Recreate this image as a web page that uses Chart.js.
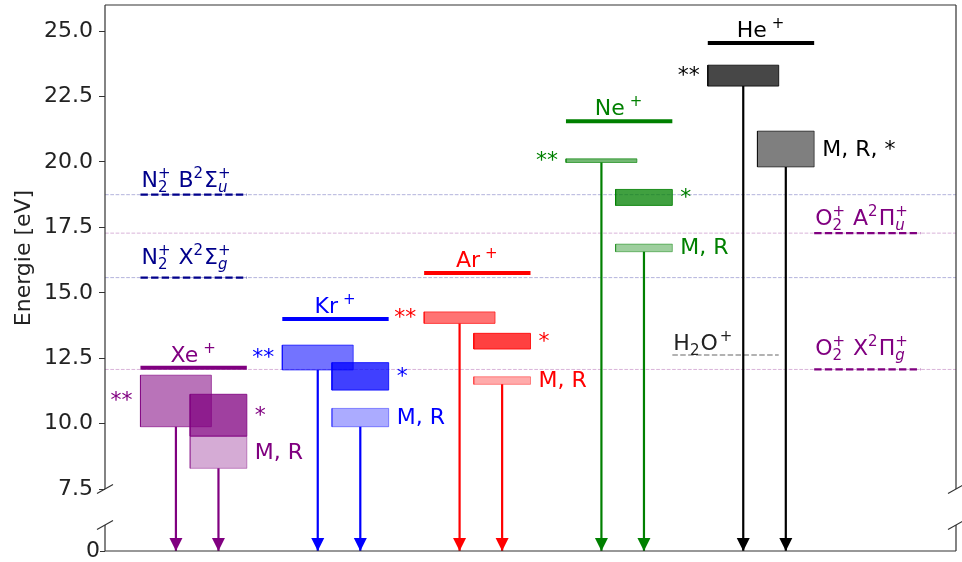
<!DOCTYPE html>
<html>
<head>
<meta charset="utf-8">
<title>Ionisierungsenergien</title>
<script src="https://cdn.jsdelivr.net/npm/chart.js@4.4.1/dist/chart.umd.min.js"></script>
<style>
  html, body { margin: 0; padding: 0; background: #ffffff; }
  canvas { display: block; }
</style>
</head>
<body>
<canvas id="chart" width="962" height="562" style="width:962px;height:562px"></canvas>
<script>
// ---- data ---------------------------------------------------------------
// Noble-gas ions, one group per x position
const ions = ['Xe', 'Kr', 'Ar', 'Ne', 'He'];
const ionX = [1, 2, 3, 4, 5];
const ionEnergy = [12.13, 14.00, 15.76, 21.56, 24.55];          // eV

// Energy windows [low, high] in eV
const rangeDoubleStar = [[9.88, 11.85], [12.05, 13.00], [13.83, 14.27], [19.98, 20.12], [22.90, 23.70]];
const rangeStar       = [[9.52, 11.12], [11.28, 12.33], [12.85, 13.45], [18.34, 18.95], null];
const rangeMR         = [[8.29, 9.52],  [9.88, 10.58],  [11.50, 11.79], [16.57, 16.86], [19.81, 21.18]];
const mrText = ['M, R', 'M, R', 'M, R', 'M, R', 'M, R, *'];

// Molecular ion states
const molStates = ['N2+ B', 'N2+ X', 'O2+ A', 'O2+ X'];
const molEnergy = [18.75, 15.58, 17.28, 12.07];
const molX = [1, 1, 5.75, 5.75];
const waterEnergy = 12.62;
const waterX = 4.75;

// Axis ticks
const yTicksUpper = [7.5, 10.0, 12.5, 15.0, 17.5, 20.0, 22.5, 25.0];
const yTicksLower = [0];

// ---- styling / layout --------------------------------------------------
const X_MIN = 0.375, X_MAX = 6.375;
const Y_MIN = 7.5, Y_MAX = 26;
const Y0_MIN = 0, Y0_MAX = 1;
const HALF = 0.375;                       // half width of an ion level bar
const SPAN_DSTAR = [-0.375, 0.125];       // box span relative to group centre
const SPAN_RIGHT = [-0.025, 0.375];
const FONT = '"DejaVu Sans", "Liberation Sans", sans-serif';

const ionRGB = { Xe: [128, 0, 128], Kr: [0, 0, 255], Ar: [255, 0, 0], Ne: [0, 128, 0], He: [0, 0, 0] };
const ionCss = { Xe: '#800080', Kr: '#0000ff', Ar: '#ff0000', Ne: '#008000', He: '#000000' };
const molCss = ['#00008b', '#00008b', '#800080', '#800080'];
const molGuide = ['rgba(0,0,139,0.30)', 'rgba(0,0,139,0.30)', 'rgba(128,0,128,0.30)', 'rgba(128,0,128,0.30)'];
const boxAlpha = {
  Xe: { d: 0.55, s: 0.75, m: 0.33 },
  Kr: { d: 0.55, s: 0.75, m: 0.33 },
  Ar: { d: 0.55, s: 0.75, m: 0.33 },
  Ne: { d: 0.55, s: 0.75, m: 0.38 },
  He: { d: 0.72, s: 0.75, m: 0.50 }
};

const rgba = (c, a) => `rgba(${c[0]},${c[1]},${c[2]},${a})`;
const rect = (x0, x1, lo, hi) => [
  { x: x0, y: lo }, { x: x1, y: lo }, { x: x1, y: hi }, { x: x0, y: hi }, { x: x0, y: lo }
];

// ---- datasets ----------------------------------------------------------
const datasets = [];
const base = { pointRadius: 0, pointHoverRadius: 0, tension: 0, fill: false, yAxisID: 'y' };

// faint guide lines across the whole plot
molEnergy.forEach((e, i) => {
  datasets.push(Object.assign({}, base, {
    label: molStates[i] + ' guide',
    data: [{ x: X_MIN, y: e }, { x: X_MAX, y: e }],
    borderColor: molGuide[i], borderWidth: 1, borderDash: [3.7, 1.6], order: 20
  }));
});

ions.forEach((ion, i) => {
  const c = ionX[i];
  const col = ionRGB[ion];
  const a = boxAlpha[ion];
  const addBox = (span, r, alpha) => {
    if (!r) return;
    datasets.push(Object.assign({}, base, {
      label: ion + ' box',
      data: rect(c + span[0], c + span[1], r[0], r[1]),
      fill: 'shape',
      backgroundColor: rgba(col, alpha),
      borderColor: rgba(col, Math.min(1, alpha + 0.08)),
      borderWidth: 1, order: 10
    }));
  };
  addBox(SPAN_RIGHT, rangeMR[i], a.m);
  addBox(SPAN_RIGHT, rangeStar[i], a.s);
  addBox(SPAN_DSTAR, rangeDoubleStar[i], a.d);

  // ionisation level
  datasets.push(Object.assign({}, base, {
    label: ion + '+',
    data: [{ x: c - HALF, y: ionEnergy[i] }, { x: c + HALF, y: ionEnergy[i] }],
    borderColor: ionCss[ion], borderWidth: 4, borderCapStyle: 'butt', order: 5
  }));

  // arrows from the lower edge of a window down to zero
  const addArrow = (span, r) => {
    const xa = c + (span[0] + span[1]) / 2;
    datasets.push(Object.assign({}, base, {
      label: ion + ' arrow',
      data: [{ x: xa, y: r[0] }, { x: xa, y: Y_MIN }],
      borderColor: ionCss[ion], borderWidth: 2.2, borderCapStyle: 'butt', order: 4
    }));
    datasets.push(Object.assign({}, base, {
      label: ion + ' arrow',
      yAxisID: 'y0', arrowHead: true,
      data: [{ x: xa, y: Y0_MAX }, { x: xa, y: Y0_MIN }],
      borderColor: ionCss[ion], borderWidth: 2.2, borderCapStyle: 'butt', order: 4
    }));
  };
  addArrow(SPAN_DSTAR, rangeDoubleStar[i]);
  addArrow(SPAN_RIGHT, rangeMR[i]);
});

// molecular state markers
molEnergy.forEach((e, i) => {
  datasets.push(Object.assign({}, base, {
    label: molStates[i],
    data: [{ x: molX[i] - HALF, y: e }, { x: molX[i] + HALF, y: e }],
    borderColor: molCss[i], borderWidth: 2.2, borderDash: [7.4, 3.2], order: 6
  }));
});
datasets.push(Object.assign({}, base, {
  label: 'H2O+',
  data: [{ x: waterX - HALF, y: waterEnergy }, { x: waterX + HALF, y: waterEnergy }],
  borderColor: '#999999', borderWidth: 1.5, borderDash: [5.5, 2.4], order: 6
}));

// ---- text helpers ------------------------------------------------------
const MAIN = '22px ' + FONT;
const SCRIPT = '15px ' + FONT;
const SCRIPT_IT = 'italic 15px ' + FONT;

function drawRich(ctx, parts, x, y, align, color) {
  const widths = parts.map(p => {
    if (p.t) { ctx.font = MAIN; return ctx.measureText(p.t).width; }
    if (p.gap) return p.gap;
    let w = 0;
    if (p.sup) { ctx.font = SCRIPT; w = Math.max(w, ctx.measureText(p.sup).width); }
    if (p.sub) { ctx.font = p.it ? SCRIPT_IT : SCRIPT; w = Math.max(w, ctx.measureText(p.sub).width); }
    return w + 1;
  });
  const total = widths.reduce((s, w) => s + w, 0);
  let cx = align === 'center' ? x - total / 2 : (align === 'right' ? x - total : x);
  ctx.fillStyle = color;
  ctx.textAlign = 'left';
  ctx.textBaseline = 'alphabetic';
  parts.forEach((p, i) => {
    if (p.t) { ctx.font = MAIN; ctx.fillText(p.t, cx, y); }
    if (p.sup) { ctx.font = SCRIPT; ctx.fillText(p.sup, cx, y - 9); }
    if (p.sub) { ctx.font = p.it ? SCRIPT_IT : SCRIPT; ctx.fillText(p.sub, cx, y + 5); }
    cx += widths[i];
  });
}

const molParts = [
  [{ t: 'N' }, { sub: '2', sup: '+' }, { t: ' B' }, { sup: '2' }, { t: 'Σ' }, { sub: 'u', sup: '+', it: true }],
  [{ t: 'N' }, { sub: '2', sup: '+' }, { t: ' X' }, { sup: '2' }, { t: 'Σ' }, { sub: 'g', sup: '+', it: true }],
  [{ t: 'O' }, { sub: '2', sup: '+' }, { t: ' A' }, { sup: '2' }, { t: 'Π' }, { sub: 'u', sup: '+', it: true }],
  [{ t: 'O' }, { sub: '2', sup: '+' }, { t: ' X' }, { sup: '2' }, { t: 'Π' }, { sub: 'g', sup: '+', it: true }]
];
const molRaise = [8, 14, 8, 14];

// ---- decorations plugin ------------------------------------------------
const decorations = {
  id: 'decorations',
  beforeDraw(chart) {
    const ctx = chart.ctx;
    ctx.save();
    ctx.fillStyle = '#ffffff';
    ctx.fillRect(0, 0, chart.width, chart.height);
    ctx.restore();
  },
  afterDatasetsDraw(chart) {
    const ctx = chart.ctx;
    const xs = chart.scales.x, ys = chart.scales.y, y0s = chart.scales.y0;
    const area = chart.chartArea;
    ctx.save();

    // arrow heads
    chart.data.datasets.forEach((ds, i) => {
      if (!ds.arrowHead) return;
      const meta = chart.getDatasetMeta(i);
      const tip = meta.data[meta.data.length - 1];
      ctx.fillStyle = ds.borderColor;
      ctx.beginPath();
      ctx.moveTo(tip.x, tip.y);
      ctx.lineTo(tip.x - 6.5, tip.y - 13);
      ctx.lineTo(tip.x + 6.5, tip.y - 13);
      ctx.closePath();
      ctx.fill();
    });

    // frame with axis break
    const upperBottom = ys.bottom;
    const lowerTop = ys.bottom + 36;
    const bottom = y0s.getPixelForValue(Y0_MIN);
    ctx.strokeStyle = '#333333';
    ctx.lineWidth = 1.2;
    ctx.beginPath();
    [area.left, area.right].forEach(xx => {
      ctx.moveTo(xx, ys.top); ctx.lineTo(xx, upperBottom);
      ctx.moveTo(xx, lowerTop); ctx.lineTo(xx, bottom);
    });
    ctx.moveTo(area.left, ys.top); ctx.lineTo(area.right, ys.top);
    ctx.moveTo(area.left, bottom); ctx.lineTo(area.right, bottom);
    ctx.stroke();
    ctx.beginPath();
    [area.left, area.right].forEach(xx => {
      [upperBottom, lowerTop].forEach(yy => {
        ctx.moveTo(xx - 8, yy + 4.5); ctx.lineTo(xx + 8, yy - 4.5);
      });
    });
    ctx.stroke();

    // ion labels and window labels
    ions.forEach((ion, i) => {
      const c = ionX[i];
      const col = ionCss[ion];
      const yl = ys.getPixelForValue(ionEnergy[i]) - 6;
      drawRich(ctx, [{ t: ion }, { gap: 5 }, { sup: '+' }], xs.getPixelForValue(c), yl, 'center', col);

      const mid = r => (ys.getPixelForValue(r[0]) + ys.getPixelForValue(r[1])) / 2 + 6.5;
      ctx.font = MAIN;
      ctx.fillStyle = col;
      ctx.textBaseline = 'alphabetic';
      ctx.textAlign = 'right';
      ctx.fillText('**', xs.getPixelForValue(c + SPAN_DSTAR[0]) - 8, mid(rangeDoubleStar[i]));
      ctx.textAlign = 'left';
      const xr = xs.getPixelForValue(c + SPAN_RIGHT[1]) + 8;
      if (rangeStar[i]) ctx.fillText('*', xr, mid(rangeStar[i]));
      ctx.fillText(mrText[i], xr, mid(rangeMR[i]));
    });

    // molecular state labels
    molEnergy.forEach((e, i) => {
      drawRich(ctx, molParts[i], xs.getPixelForValue(molX[i] - HALF) + 1,
        ys.getPixelForValue(e) - molRaise[i], 'left', molCss[i]);
    });
    drawRich(ctx, [{ t: 'H' }, { sub: '2' }, { t: 'O' }, { gap: 2 }, { sup: '+' }],
      xs.getPixelForValue(waterX - HALF) + 1, ys.getPixelForValue(waterEnergy) - 5, 'left', '#222222');

    // axis title
    ctx.save();
    ctx.translate(24, (ys.top + ys.bottom) / 2 + 11);
    ctx.rotate(-Math.PI / 2);
    ctx.font = MAIN;
    ctx.fillStyle = '#222222';
    ctx.textAlign = 'center';
    ctx.textBaseline = 'middle';
    ctx.fillText('Energie [eV]', 0, 0);
    ctx.restore();

    ctx.restore();
  }
};

// ---- chart -------------------------------------------------------------
Chart.defaults.font.family = FONT;

const tickFont = { size: 22, family: FONT };
new Chart(document.getElementById('chart'), {
  type: 'line',
  data: { datasets },
  plugins: [decorations],
  options: {
    responsive: false,
    animation: false,
    devicePixelRatio: 1,
    events: [],
    layout: { autoPadding: false, padding: { left: 0, right: 6, top: 5, bottom: 11 } },
    plugins: { legend: { display: false }, tooltip: { enabled: false } },
    scales: {
      x: { type: 'linear', min: X_MIN, max: X_MAX, display: false },
      y: {
        type: 'linear', position: 'left', stack: 'energy', stackWeight: 484, weight: 1,
        min: Y_MIN, max: Y_MAX,
        border: { display: false },
        grid: { display: true, drawOnChartArea: false, drawTicks: true, tickLength: 6, color: '#333333', lineWidth: 1 },
        ticks: { autoSkip: false, padding: 6, color: '#222222', font: tickFont, callback: v => Number(v).toFixed(1) },
        afterBuildTicks: s => { s.ticks = yTicksUpper.map(v => ({ value: v })); },
        afterFit: s => { s.width = 105; s.paddingTop = 0; s.paddingBottom = 0; }
      },
      y0: {
        type: 'linear', position: 'left', stack: 'energy', stackWeight: 62, weight: 0,
        min: Y0_MIN, max: Y0_MAX,
        border: { display: false },
        grid: { display: true, drawOnChartArea: false, drawTicks: true, tickLength: 5, color: '#333333', lineWidth: 1 },
        ticks: { autoSkip: false, padding: 0, color: '#222222', font: tickFont, callback: v => String(v) },
        afterBuildTicks: s => { s.ticks = yTicksLower.map(v => ({ value: v })); },
        afterFit: s => { s.width = 105; s.paddingTop = 0; s.paddingBottom = 0; }
      }
    }
  }
});
</script>
</body>
</html>
